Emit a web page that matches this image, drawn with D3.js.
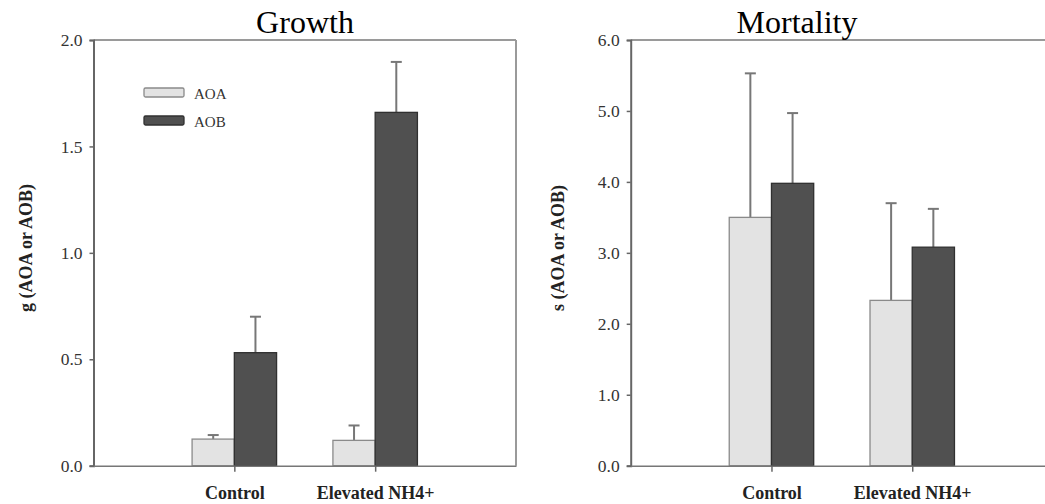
<!DOCTYPE html>
<html>
<head>
<meta charset="utf-8">
<script src="https://cdn.jsdelivr.net/npm/d3@7"></script>
<style>
  html, body { margin: 0; padding: 0; background: #fff; }
  svg { display: block; }
  text { font-family: "Liberation Serif", "Times New Roman", serif; }
</style>
</head>
<body>
<svg id="chart" width="1045" height="504"></svg>
<script>
// Treatment groups and the two microbial groups
const groups = ["Control", "Elevated NH4+"];
const seriesNames = ["AOA", "AOB"];

// Growth rate g (mean and upper error)
const growthAOA = [0.125, 0.119];
const growthAOB = [0.531, 1.660];
const growthAOAErr = [0.019, 0.070];
const growthAOBErr = [0.169, 0.237];
const growthTicks = [0.0, 0.5, 1.0, 1.5, 2.0];

// Mortality rate s (mean and upper error)
const mortalityAOA = [3.50, 2.33];
const mortalityAOB = [3.98, 3.08];
const mortalityAOAErr = [2.03, 1.37];
const mortalityAOBErr = [0.99, 0.54];
const mortalityTicks = [0.0, 1.0, 2.0, 3.0, 4.0, 5.0, 6.0];

const fills = { AOA: "#e3e3e3", AOB: "#505050" };
const strokes = { AOA: "#8a8a8a", AOB: "#303030" };

const svg = d3.select("#chart");
const plotTop = 40, plotBottom = 465.7;

const panels = [
  {
    title: "Growth", titleX: 305, ylabel: "g (AOA or AOB)", ylabelX: 32,
    x0: 93.5, x1: 516, yMax: 2.0, ticks: growthTicks,
    values: { AOA: growthAOA, AOB: growthAOB },
    errors: { AOA: growthAOAErr, AOB: growthAOBErr },
    legend: true
  },
  {
    title: "Mortality", titleX: 797, ylabel: "s (AOA or AOB)", ylabelX: 564,
    x0: 630.7, x1: 1053, yMax: 6.0, ticks: mortalityTicks,
    values: { AOA: mortalityAOA, AOB: mortalityAOB },
    errors: { AOA: mortalityAOAErr, AOB: mortalityAOBErr },
    legend: false
  }
];

panels.forEach(p => {
  const g = svg.append("g");
  // categories sit at 1 and 2 on a 0..3 axis; each bar is 0.3 wide
  const x = d3.scaleLinear().domain([0, 3]).range([p.x0, p.x1]);
  const y = d3.scaleLinear().domain([0, p.yMax]).range([plotBottom, plotTop]);
  const barW = 0.3;

  // frame: top and right edges
  g.append("line").attr("x1", p.x0).attr("x2", p.x1).attr("y1", plotTop).attr("y2", plotTop)
    .attr("stroke", "#9a9a9a").attr("stroke-width", 2);
  g.append("line").attr("x1", p.x1).attr("x2", p.x1).attr("y1", plotTop).attr("y2", plotBottom)
    .attr("stroke", "#9a9a9a").attr("stroke-width", 2);

  // bars and error bars
  seriesNames.forEach((s, si) => {
    groups.forEach((grp, gi) => {
      const c = gi + 1;
      const left = si === 0 ? c - barW : c;
      const v = p.values[s][gi];
      const e = p.errors[s][gi];
      const cx = x(left + barW / 2);
      g.append("line")
        .attr("x1", cx).attr("x2", cx)
        .attr("y1", y(v)).attr("y2", y(v + e))
        .attr("stroke", "#777").attr("stroke-width", 2);
      g.append("line")
        .attr("x1", cx - 5.5).attr("x2", cx + 5.5)
        .attr("y1", y(v + e)).attr("y2", y(v + e))
        .attr("stroke", "#777").attr("stroke-width", 2);
      g.append("rect")
        .attr("x", x(left)).attr("y", y(v))
        .attr("width", x(left + barW) - x(left))
        .attr("height", y(0) - y(v))
        .attr("fill", fills[s]).attr("stroke", strokes[s]).attr("stroke-width", 1.3);
    });
  });

  // y axis
  const yAxis = d3.axisLeft(y).tickValues(p.ticks).tickSize(4).tickPadding(7)
    .tickFormat(d3.format(".1f"));
  const ya = g.append("g").attr("transform", `translate(${p.x0},0)`).call(yAxis);
  ya.select(".domain").attr("stroke", "#666").attr("stroke-width", 2);
  ya.selectAll(".tick line").attr("stroke", "#666").attr("stroke-width", 1.5);
  ya.selectAll(".tick text").attr("fill", "#333").style("font-size", "17.5px")
    .style("font-family", "'Liberation Serif', serif");

  // x axis
  const xAxis = d3.axisBottom(x).tickValues([1, 2]).tickSize(6).tickPadding(15)
    .tickSizeOuter(0).tickFormat(d => groups[d - 1]);
  const xa = g.append("g").attr("transform", `translate(0,${plotBottom})`).call(xAxis);
  xa.select(".domain").attr("stroke", "#777").attr("stroke-width", 1.5);
  xa.selectAll(".tick line").attr("stroke", "#666").attr("stroke-width", 1.5);
  xa.selectAll(".tick text").attr("fill", "#222").style("font-size", "18px")
    .style("font-weight", "bold").style("font-family", "'Liberation Serif', serif");

  // title
  g.append("text").attr("x", p.titleX).attr("y", 33).attr("text-anchor", "middle")
    .style("font-size", "32px").attr("fill", "#000").text(p.title);

  // y label
  g.append("text")
    .attr("transform", `translate(${p.ylabelX},248) rotate(-90)`)
    .attr("text-anchor", "middle")
    .style("font-size", "18px").style("font-weight", "bold").attr("fill", "#222")
    .text(p.ylabel);

  // legend
  if (p.legend) {
    const lg = g.append("g");
    seriesNames.forEach((s, i) => {
      const ly = 88 + i * 28;
      lg.append("rect").attr("x", 144).attr("y", ly).attr("width", 40).attr("height", 9)
        .attr("rx", 1.5)
        .attr("fill", fills[s]).attr("stroke", strokes[s]).attr("stroke-width", 1.3);
      lg.append("text").attr("x", 194).attr("y", ly + 11)
        .style("font-size", "15px").attr("fill", "#333").text(s);
    });
  }
});
</script>
</body>
</html>
